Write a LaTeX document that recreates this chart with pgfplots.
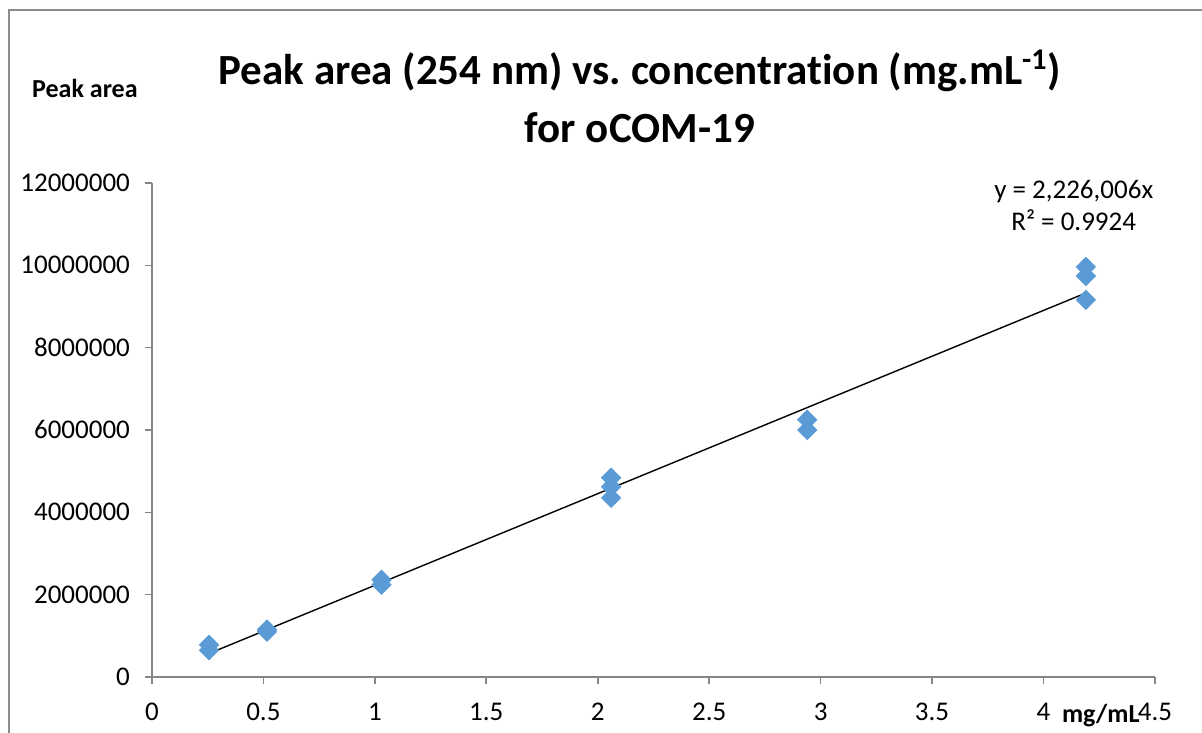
\documentclass[border=0pt]{standalone}
\usepackage{pgfplots}
\pgfplotsset{compat=1.18}
\usepackage{fontspec}
\setmainfont[Ligatures={NoCommon}]{Carlito}
\frenchspacing
\definecolor{excelblue}{HTML}{5B9BD5}
\definecolor{axisgray}{HTML}{868686}
\definecolor{framegray}{HTML}{8C8C8C}

\begin{document}
\begin{tikzpicture}
\begin{axis}[
  scale only axis, width=501.5pt, height=247pt,
  xmin=0, xmax=4.5, ymin=0, ymax=12000000,
  xtick={0,0.5,...,4.5},
  ytick={0,2000000,4000000,6000000,8000000,10000000,12000000},
  axis x line=bottom, axis y line=left,
  axis line style={axisgray, line width=0.8pt, -},
  tick align=outside, major tick length=3.5pt,
  tick style={axisgray, line width=0.8pt},
  scaled y ticks=false,
  /pgf/number format/assume math mode=true,
  yticklabel style={/pgf/number format/fixed, /pgf/number format/1000 sep={}, xshift=-4pt},
  xticklabel style={yshift=-6pt},
  ticklabel style={font=\fontsize{13.5}{16}\selectfont},
  clip=false,
]
% measured points
\addplot[only marks, mark=square*, mark size=3.4pt,
  mark options={rotate=45, fill=excelblue, draw=excelblue}] coordinates {
  (0.256, 780000) (0.256, 650000)
  (0.516, 1150000) (0.516, 1100000)
  (1.03, 2360000) (1.03, 2240000)
  (2.06, 4840000) (2.06, 4620000) (2.06, 4350000)
  (2.94, 6250000) (2.94, 6000000)
  (4.19, 9960000) (4.19, 9740000) (4.19, 9160000)
};
% linear trendline through origin, y = 2226006x
\addplot[black, line width=0.7pt] coordinates {(0.256, 569858) (4.19, 9326965)};

\node[font=\bfseries\fontsize{21.5}{29}\selectfont, align=center] at (rel axis cs:0.4865,1.176)
  {Peak area (254 nm) vs. concentration (mg.mL\textsuperscript{-1})\\for oCOM-19};
\node[font=\bfseries\fontsize{13}{15}\selectfont] at (rel axis cs:-0.0668,1.192) {Peak area};
\node[font=\bfseries\fontsize{13}{15}\selectfont] at (rel axis cs:0.946,-0.079) {mg/mL};
\node[font=\fontsize{13.5}{16}\selectfont, align=center] at (rel axis cs:0.919,0.955)
  {y = 2,226,006x\\R² = 0.9924};

\coordinate (bl) at (rel axis cs:-0.1515,-0.1134);
\coordinate (tr) at (rel axis cs:1.0469,1.3704);
\coordinate (fl) at (rel axis cs:-0.1426,1.3502);
\end{axis}
\pgfresetboundingbox
\path[use as bounding box] (bl) rectangle (tr);
\draw[framegray, line width=0.8pt] (fl |- bl) -- (fl) -- (fl -| tr);
\end{tikzpicture}
\end{document}
